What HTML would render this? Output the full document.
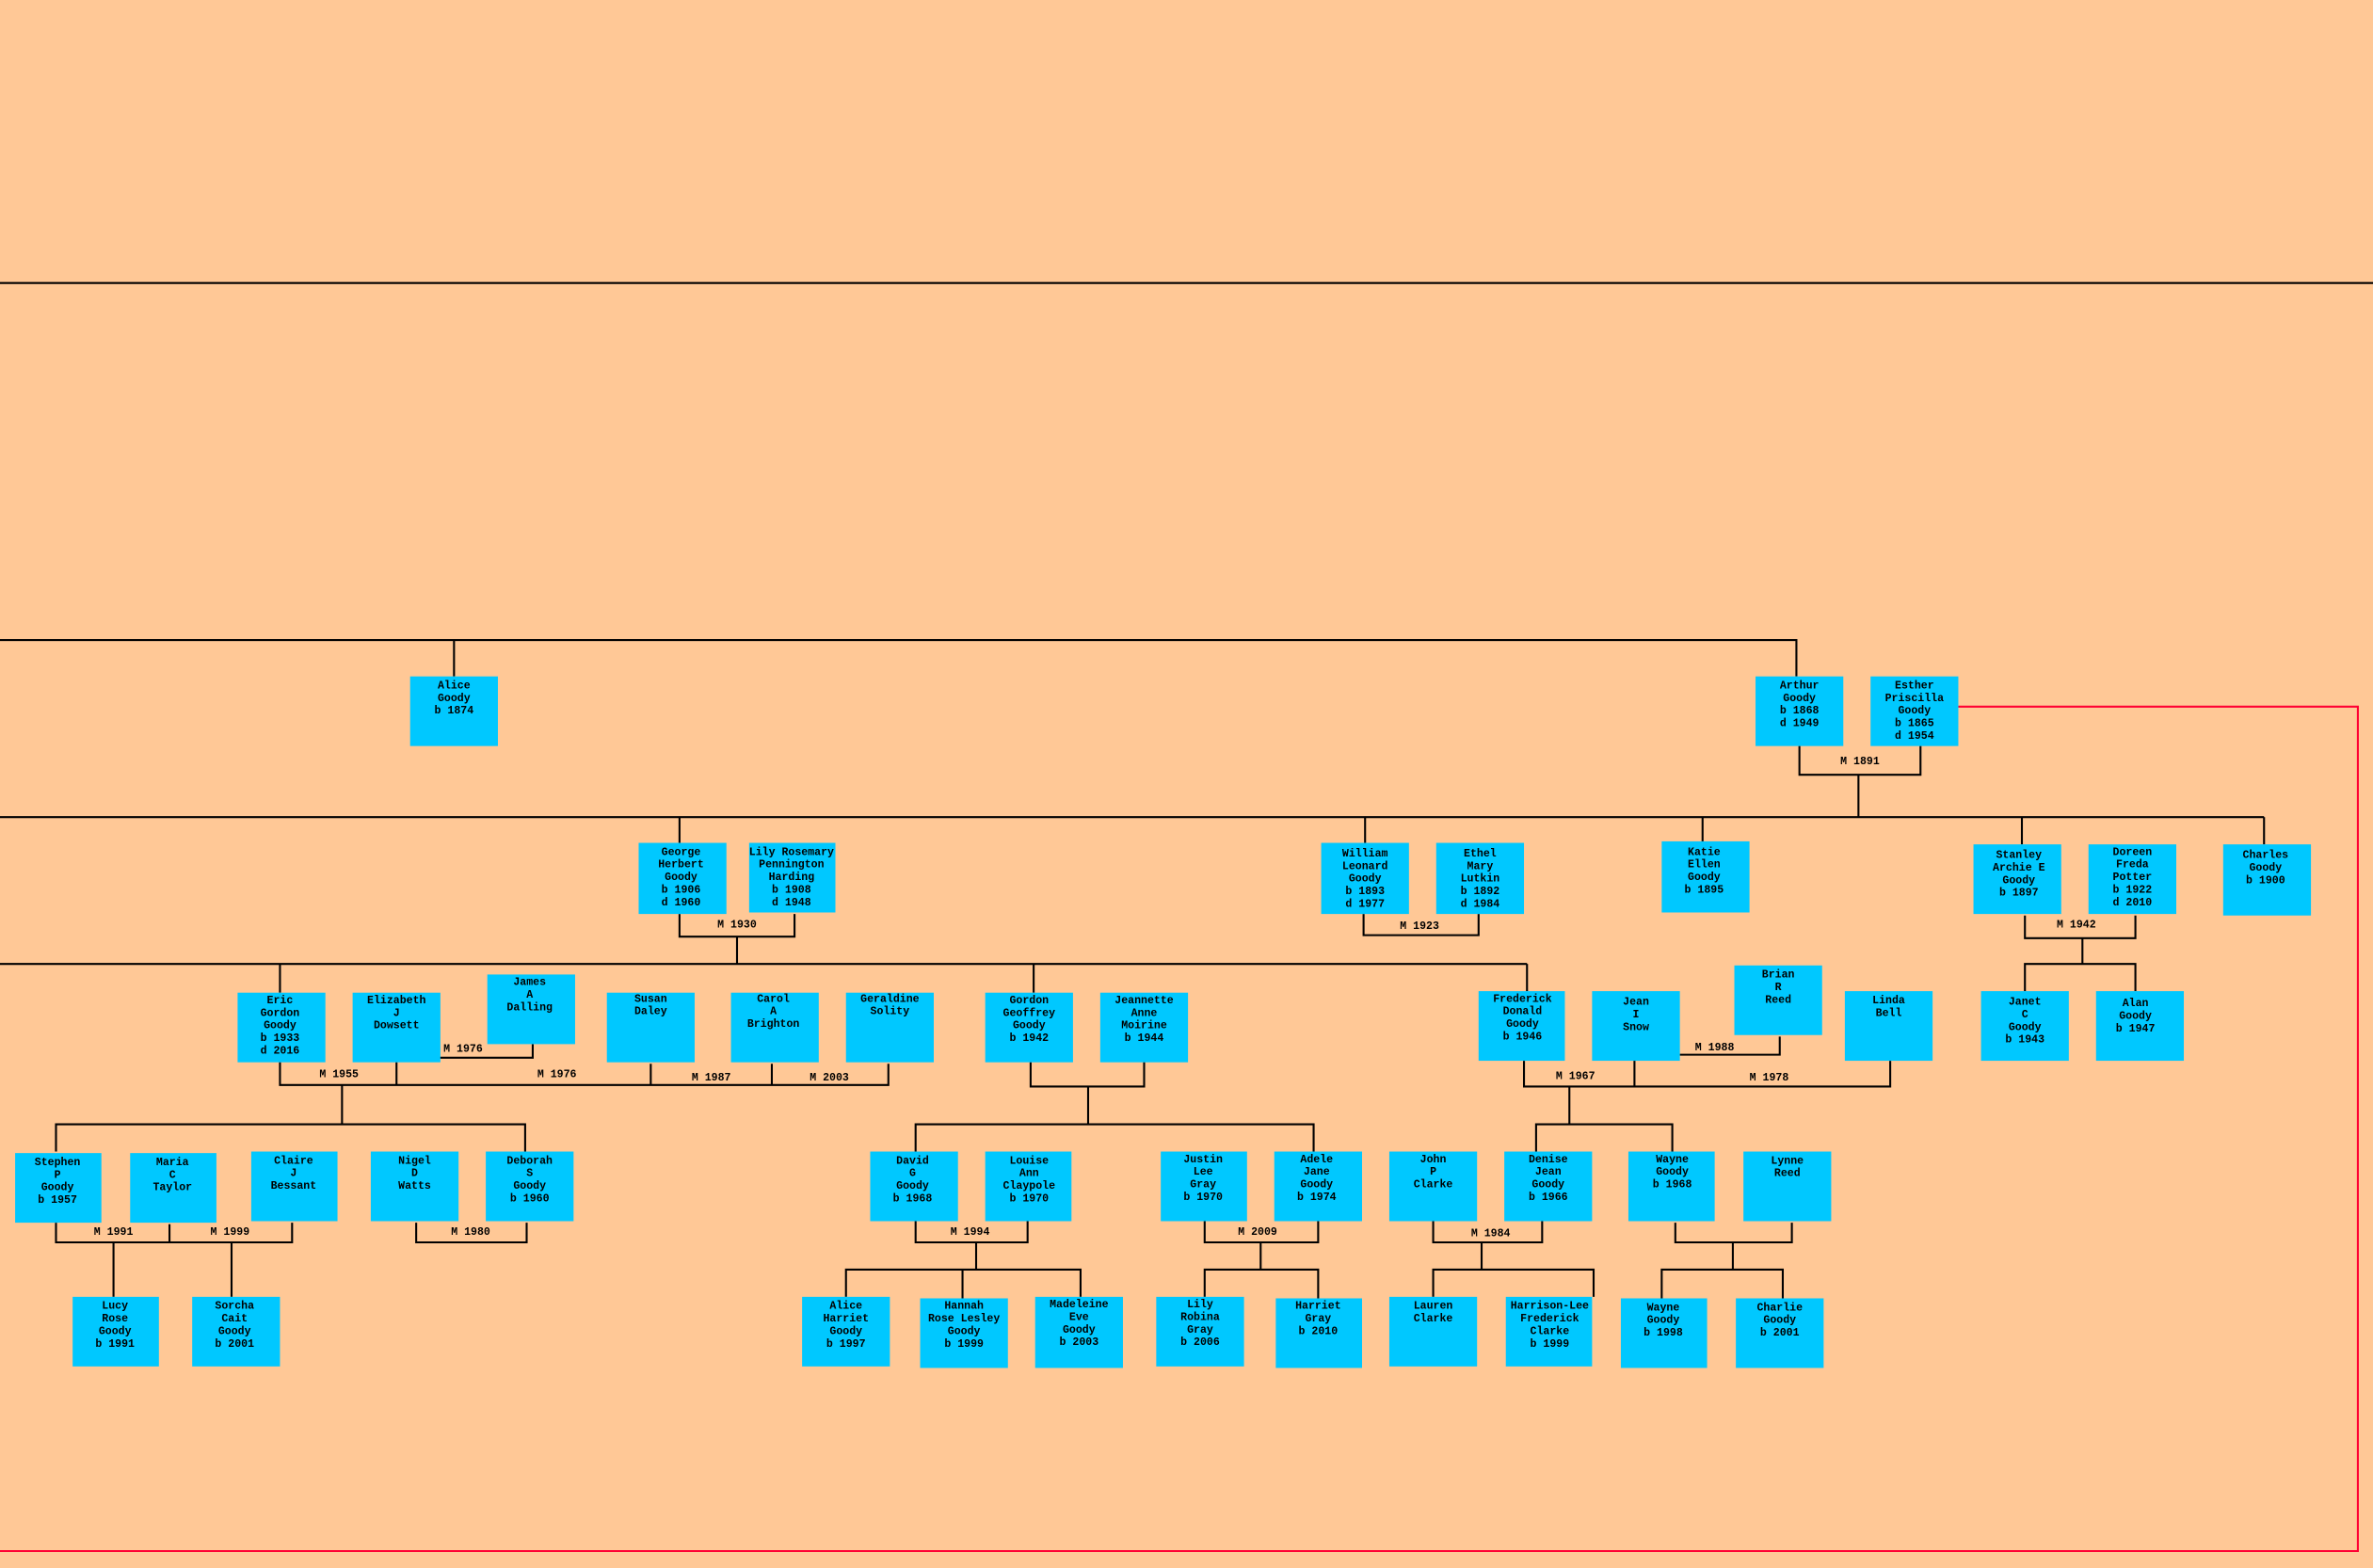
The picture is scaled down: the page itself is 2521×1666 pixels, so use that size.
<!DOCTYPE html>
<html><head><meta charset="utf-8"><style>
html,body{margin:0;padding:0;background:#ffc896;}
svg{display:block}
text{font-family:"Liberation Mono",monospace;font-weight:bold;font-size:7.2px;fill:#000;text-anchor:middle}
rect{fill:#00c8ff}
.l{stroke:#000;stroke-width:1.3;fill:none}
</style></head><body>
<svg width="2521" height="1666" viewBox="0 0 1568 1036.2" xmlns="http://www.w3.org/2000/svg">
<rect x="0" y="0" width="1568" height="1037" style="fill:#ffc896"/>
<line class="l" x1="0" y1="187" x2="1568" y2="187"/>
<polyline points="1294,467 1558,467 1558,1025 0,1025" style="stroke:#ff0033;stroke-width:1.3;fill:none"/>
<g class="l">
<polyline points="0,423 1187,423 1187,447"/><line x1="300" y1="423" x2="300" y2="447"/>
<polyline points="1189,493 1189,512 1269,512 1269,493"/><line x1="1228" y1="512" x2="1228" y2="540"/>
<line x1="0" y1="540" x2="1496" y2="540"/>
<line x1="449" y1="540" x2="449" y2="557"/><line x1="902" y1="540" x2="902" y2="557"/><line x1="1125" y1="540" x2="1125" y2="556"/><line x1="1336" y1="540" x2="1336" y2="558"/><polyline points="1496,540 1496,558"/>
<polyline points="901,604 901,618 977,618 977,604"/>
<polyline points="1338,605 1338,620 1411,620 1411,605"/><line x1="1376" y1="620" x2="1376" y2="637"/>
<polyline points="1338,655 1338,637 1411,637 1411,655"/>
<polyline points="449,604 449,619 525,619 525,604"/><line x1="487" y1="619" x2="487" y2="637"/>
<line x1="0" y1="637" x2="1009" y2="637"/>
<line x1="185" y1="637" x2="185" y2="656"/><line x1="683" y1="637" x2="683" y2="656"/><line x1="1009" y1="637" x2="1009" y2="655"/>
<polyline points="185,702 185,717 587,717 587,703"/><line x1="262" y1="702" x2="262" y2="717"/><line x1="430" y1="703" x2="430" y2="717"/><line x1="510" y1="703" x2="510" y2="717"/>
<polyline points="290,699 352,699 352,690"/>
<line x1="226" y1="717" x2="226" y2="743"/><polyline points="37,761 37,743 347,743 347,761"/>
<polyline points="37,808 37,821 193,821 193,808"/><line x1="112" y1="809" x2="112" y2="821"/>
<line x1="75" y1="821" x2="75" y2="857"/><line x1="153" y1="821" x2="153" y2="857"/>
<polyline points="275,808 275,821 348,821 348,808"/>
<polyline points="681,702 681,718 756,718 756,702"/><line x1="719" y1="718" x2="719" y2="743"/>
<polyline points="605,761 605,743 868,743 868,761"/>
<polyline points="605,807 605,821 679,821 679,807"/><line x1="645" y1="821" x2="645" y2="839"/>
<polyline points="559,857 559,839 714,839 714,857"/><line x1="636" y1="839" x2="636" y2="858"/>
<polyline points="796,807 796,821 871,821 871,807"/><line x1="833" y1="821" x2="833" y2="839"/>
<polyline points="796,857 796,839 871,839 871,858"/>
<polyline points="1007,701 1007,718 1249,718 1249,701"/><line x1="1080" y1="701" x2="1080" y2="718"/>
<polyline points="1110,697 1176,697 1176,685"/>
<line x1="1037" y1="718" x2="1037" y2="743"/><polyline points="1015,761 1015,743 1105,743 1105,761"/>
<polyline points="947,807 947,821 1019,821 1019,807"/><line x1="979" y1="821" x2="979" y2="839"/>
<polyline points="947,857 947,839 1053,839 1053,857"/>
<polyline points="1107,808 1107,821 1184,821 1184,808"/><line x1="1145" y1="821" x2="1145" y2="839"/>
<polyline points="1098,858 1098,839 1178,839 1178,858"/>
</g>
<rect x="271" y="447" width="58" height="46"/><rect x="1160" y="447" width="58" height="46"/><rect x="1236" y="447" width="58" height="46"/>
<rect x="422" y="557" width="58" height="47"/><rect x="495" y="557" width="57" height="46"/>
<rect x="873" y="557" width="58" height="47"/><rect x="949" y="557" width="58" height="47"/><rect x="1098" y="556" width="58" height="47"/>
<rect x="1304" y="558" width="58" height="46"/><rect x="1380" y="558" width="58" height="46"/><rect x="1469" y="558" width="58" height="47"/>
<rect x="1309" y="655" width="58" height="46"/><rect x="1385" y="655" width="58" height="46"/>
<rect x="157" y="656" width="58" height="46"/><rect x="233" y="656" width="58" height="46"/><rect x="322" y="644" width="58" height="46"/>
<rect x="401" y="656" width="58" height="46"/><rect x="483" y="656" width="58" height="46"/><rect x="559" y="656" width="58" height="46"/>
<rect x="651" y="656" width="58" height="46"/><rect x="727" y="656" width="58" height="46"/>
<rect x="977" y="655" width="57" height="46"/><rect x="1052" y="655" width="58" height="46"/><rect x="1146" y="638" width="58" height="46"/><rect x="1219" y="655" width="58" height="46"/>
<rect x="10" y="762" width="57" height="46"/><rect x="86" y="762" width="57" height="46"/><rect x="166" y="761" width="57" height="46"/><rect x="245" y="761" width="58" height="46"/><rect x="321" y="761" width="58" height="46"/>
<rect x="48" y="857" width="57" height="46"/><rect x="127" y="857" width="58" height="46"/>
<rect x="575" y="761" width="58" height="46"/><rect x="651" y="761" width="57" height="46"/><rect x="767" y="761" width="57" height="46"/><rect x="842" y="761" width="58" height="46"/>
<rect x="530" y="857" width="58" height="46"/><rect x="608" y="858" width="58" height="46"/><rect x="684" y="857" width="58" height="47"/>
<rect x="764" y="857" width="58" height="46"/><rect x="843" y="858" width="57" height="46"/>
<rect x="918" y="761" width="58" height="46"/><rect x="994" y="761" width="58" height="46"/><rect x="1076" y="761" width="57" height="46"/><rect x="1152" y="761" width="58" height="46"/>
<rect x="918" y="857" width="58" height="46"/><rect x="995" y="857" width="57" height="46"/><rect x="1071" y="858" width="57" height="46"/><rect x="1147" y="858" width="58" height="46"/>

<text x="300" y="455">Alice<tspan x="300" dy="8.3">Goody</tspan><tspan x="300" dy="8.3">b 1874</tspan></text>
<text x="1189" y="455">Arthur<tspan x="1189" dy="8.3">Goody</tspan><tspan x="1189" dy="8.3">b 1868</tspan><tspan x="1189" dy="8.3">d 1949</tspan></text>
<text x="1265" y="455">Esther<tspan x="1265" dy="8.3">Priscilla</tspan><tspan x="1265" dy="8.3">Goody</tspan><tspan x="1265" dy="8.3">b 1865</tspan><tspan x="1265" dy="8.3">d 1954</tspan></text>
<text x="1229" y="505">M 1891</text>
<text x="450" y="565">George<tspan x="450" dy="8.3">Herbert</tspan><tspan x="450" dy="8.3">Goody</tspan><tspan x="450" dy="8.3">b 1906</tspan><tspan x="450" dy="8.3">d 1960</tspan></text>
<text x="523" y="565">Lily Rosemary<tspan x="523" dy="8.3">Pennington</tspan><tspan x="523" dy="8.3">Harding</tspan><tspan x="523" dy="8.3">b 1908</tspan><tspan x="523" dy="8.3">d 1948</tspan></text>
<text x="902" y="566">William<tspan x="902" dy="8.3">Leonard</tspan><tspan x="902" dy="8.3">Goody</tspan><tspan x="902" dy="8.3">b 1893</tspan><tspan x="902" dy="8.3">d 1977</tspan></text>
<text x="978" y="566">Ethel<tspan x="978" dy="8.3">Mary</tspan><tspan x="978" dy="8.3">Lutkin</tspan><tspan x="978" dy="8.3">b 1892</tspan><tspan x="978" dy="8.3">d 1984</tspan></text>
<text x="1126" y="565">Katie<tspan x="1126" dy="8.3">Ellen</tspan><tspan x="1126" dy="8.3">Goody</tspan><tspan x="1126" dy="8.3">b 1895</tspan></text>
<text x="1334" y="567">Stanley<tspan x="1334" dy="8.3">Archie E</tspan><tspan x="1334" dy="8.3">Goody</tspan><tspan x="1334" dy="8.3">b 1897</tspan></text>
<text x="1409" y="565">Doreen<tspan x="1409" dy="8.3">Freda</tspan><tspan x="1409" dy="8.3">Potter</tspan><tspan x="1409" dy="8.3">b 1922</tspan><tspan x="1409" dy="8.3">d 2010</tspan></text>
<text x="1497" y="567">Charles<tspan x="1497" dy="8.3">Goody</tspan><tspan x="1497" dy="8.3">b 1900</tspan></text>
<text x="938" y="614">M 1923</text><text x="487" y="613">M 1930</text><text x="1372" y="613">M 1942</text>
<text x="1338" y="664">Janet<tspan x="1338" dy="8.3">C</tspan><tspan x="1338" dy="8.3">Goody</tspan><tspan x="1338" dy="8.3">b 1943</tspan></text>
<text x="1411" y="665">Alan<tspan x="1411" dy="8.3">Goody</tspan><tspan x="1411" dy="8.3">b 1947</tspan></text>
<text x="185" y="663">Eric<tspan x="185" dy="8.3">Gordon</tspan><tspan x="185" dy="8.3">Goody</tspan><tspan x="185" dy="8.3">b 1933</tspan><tspan x="185" dy="8.3">d 2016</tspan></text>
<text x="262" y="663">Elizabeth<tspan x="262" dy="8.3">J</tspan><tspan x="262" dy="8.3">Dowsett</tspan></text>
<text x="350" y="651">James<tspan x="350" dy="8.3">A</tspan><tspan x="350" dy="8.3">Dalling</tspan></text>
<text x="430" y="662">Susan<tspan x="430" dy="8.3">Daley</tspan></text>
<text x="511" y="662">Carol<tspan x="511" dy="8.3">A</tspan><tspan x="511" dy="8.3">Brighton</tspan></text>
<text x="588" y="662">Geraldine<tspan x="588" dy="8.3">Solity</tspan></text>
<text x="680" y="663">Gordon<tspan x="680" dy="8.3">Geoffrey</tspan><tspan x="680" dy="8.3">Goody</tspan><tspan x="680" dy="8.3">b 1942</tspan></text>
<text x="756" y="663">Jeannette<tspan x="756" dy="8.3">Anne</tspan><tspan x="756" dy="8.3">Moirine</tspan><tspan x="756" dy="8.3">b 1944</tspan></text>
<text x="1006" y="662">Frederick<tspan x="1006" dy="8.3">Donald</tspan><tspan x="1006" dy="8.3">Goody</tspan><tspan x="1006" dy="8.3">b 1946</tspan></text>
<text x="1081" y="664">Jean<tspan x="1081" dy="8.3">I</tspan><tspan x="1081" dy="8.3">Snow</tspan></text>
<text x="1175" y="646">Brian<tspan x="1175" dy="8.3">R</tspan><tspan x="1175" dy="8.3">Reed</tspan></text>
<text x="1248" y="663">Linda<tspan x="1248" dy="8.3">Bell</tspan></text>
<text x="224" y="712">M 1955</text><text x="306" y="695">M 1976</text><text x="368" y="712">M 1976</text><text x="470" y="714">M 1987</text><text x="548" y="714">M 2003</text>
<text x="1041" y="713">M 1967</text><text x="1133" y="694">M 1988</text><text x="1169" y="714">M 1978</text>
<text x="38" y="770">Stephen<tspan x="38" dy="8.3">P</tspan><tspan x="38" dy="8.3">Goody</tspan><tspan x="38" dy="8.3">b 1957</tspan></text>
<text x="114" y="770">Maria<tspan x="114" dy="8.3">C</tspan><tspan x="114" dy="8.3">Taylor</tspan></text>
<text x="194" y="769">Claire<tspan x="194" dy="8.3">J</tspan><tspan x="194" dy="8.3">Bessant</tspan></text>
<text x="274" y="769">Nigel<tspan x="274" dy="8.3">D</tspan><tspan x="274" dy="8.3">Watts</tspan></text>
<text x="350" y="769">Deborah<tspan x="350" dy="8.3">S</tspan><tspan x="350" dy="8.3">Goody</tspan><tspan x="350" dy="8.3">b 1960</tspan></text>
<text x="75" y="816">M 1991</text><text x="152" y="816">M 1999</text><text x="311" y="816">M 1980</text>
<text x="76" y="865">Lucy<tspan x="76" dy="8.3">Rose</tspan><tspan x="76" dy="8.3">Goody</tspan><tspan x="76" dy="8.3">b 1991</tspan></text>
<text x="155" y="865">Sorcha<tspan x="155" dy="8.3">Cait</tspan><tspan x="155" dy="8.3">Goody</tspan><tspan x="155" dy="8.3">b 2001</tspan></text>
<text x="603" y="769">David<tspan x="603" dy="8.3">G</tspan><tspan x="603" dy="8.3">Goody</tspan><tspan x="603" dy="8.3">b 1968</tspan></text>
<text x="680" y="769">Louise<tspan x="680" dy="8.3">Ann</tspan><tspan x="680" dy="8.3">Claypole</tspan><tspan x="680" dy="8.3">b 1970</tspan></text>
<text x="795" y="768">Justin<tspan x="795" dy="8.3">Lee</tspan><tspan x="795" dy="8.3">Gray</tspan><tspan x="795" dy="8.3">b 1970</tspan></text>
<text x="870" y="768">Adele<tspan x="870" dy="8.3">Jane</tspan><tspan x="870" dy="8.3">Goody</tspan><tspan x="870" dy="8.3">b 1974</tspan></text>
<text x="641" y="816">M 1994</text><text x="831" y="816">M 2009</text><text x="985" y="817">M 1984</text>
<text x="559" y="865">Alice<tspan x="559" dy="8.3">Harriet</tspan><tspan x="559" dy="8.3">Goody</tspan><tspan x="559" dy="8.3">b 1997</tspan></text>
<text x="637" y="865">Hannah<tspan x="637" dy="8.3">Rose Lesley</tspan><tspan x="637" dy="8.3">Goody</tspan><tspan x="637" dy="8.3">b 1999</tspan></text>
<text x="713" y="864">Madeleine<tspan x="713" dy="8.3">Eve</tspan><tspan x="713" dy="8.3">Goody</tspan><tspan x="713" dy="8.3">b 2003</tspan></text>
<text x="793" y="864">Lily<tspan x="793" dy="8.3">Robina</tspan><tspan x="793" dy="8.3">Gray</tspan><tspan x="793" dy="8.3">b 2006</tspan></text>
<text x="871" y="865">Harriet<tspan x="871" dy="8.3">Gray</tspan><tspan x="871" dy="8.3">b 2010</tspan></text>
<text x="947" y="768">John<tspan x="947" dy="8.3">P</tspan><tspan x="947" dy="8.3">Clarke</tspan></text>
<text x="1023" y="768">Denise<tspan x="1023" dy="8.3">Jean</tspan><tspan x="1023" dy="8.3">Goody</tspan><tspan x="1023" dy="8.3">b 1966</tspan></text>
<text x="1105" y="768">Wayne<tspan x="1105" dy="8.3">Goody</tspan><tspan x="1105" dy="8.3">b 1968</tspan></text>
<text x="1181" y="769">Lynne<tspan x="1181" dy="8.3">Reed</tspan></text>
<text x="947" y="865">Lauren<tspan x="947" dy="8.3">Clarke</tspan></text>
<text x="1024" y="865">Harrison-Lee<tspan x="1024" dy="8.3">Frederick</tspan><tspan x="1024" dy="8.3">Clarke</tspan><tspan x="1024" dy="8.3">b 1999</tspan></text>
<text x="1099" y="866">Wayne<tspan x="1099" dy="8.3">Goody</tspan><tspan x="1099" dy="8.3">b 1998</tspan></text>
<text x="1176" y="866">Charlie<tspan x="1176" dy="8.3">Goody</tspan><tspan x="1176" dy="8.3">b 2001</tspan></text>
</svg>
</body></html>
